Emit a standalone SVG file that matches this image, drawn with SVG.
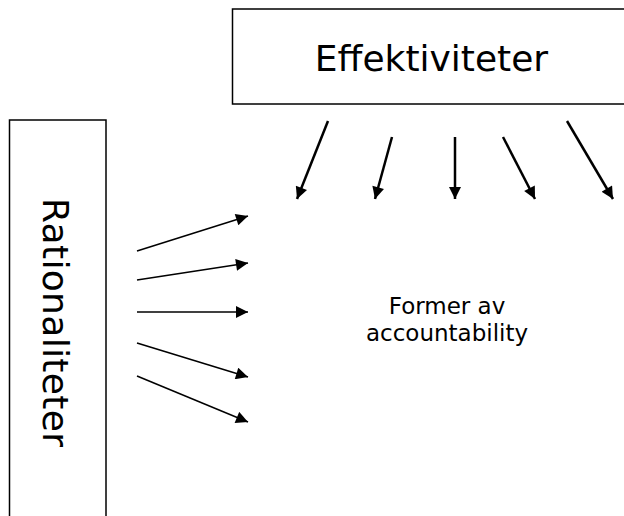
<svg xmlns="http://www.w3.org/2000/svg" width="624" height="516" viewBox="0 0 624 516">
<style>
.box{fill:#fff;stroke:#000;stroke-width:1.5}
.t{font-family:"DejaVu Sans",Verdana,sans-serif;fill:#000}
.a1{stroke:#000;stroke-width:1.5;fill:none}
.a2{stroke:#000;stroke-width:2.5;fill:none}
</style>
<defs>
<marker id="h1b" viewBox="0 0 10 10" refX="10" refY="5" markerWidth="14" markerHeight="12" markerUnits="userSpaceOnUse" orient="auto"><path d="M0,0 L10,5 L0,10 z" fill="#000"/></marker>
</defs>
<rect width="624" height="516" fill="#fff"/>
<g id="effektiviteter">
<rect class="box" x="232.5" y="9" width="400" height="95"/>
<text class="t" x="431.5" y="71" font-size="36" text-anchor="middle">Effektiviteter</text>
</g>
<g id="rationaliteter">
<rect class="box" x="9.5" y="120" width="96.5" height="410"/>
<text class="t" transform="translate(43,322.5) rotate(90)" font-size="36" text-anchor="middle" textLength="249" lengthAdjust="spacing">Rationaliteter</text>
</g>
<g id="former">
<text class="t" font-size="23" text-anchor="middle"><tspan x="447" y="314">Former av</tspan><tspan x="447" y="341">accountability</tspan></text>
</g>
<g id="connectors">
<line class="a1" x1="137" y1="251" x2="248" y2="216" marker-end="url(#h1b)"/>
<line class="a1" x1="137" y1="280" x2="248" y2="263" marker-end="url(#h1b)"/>
<line class="a1" x1="137" y1="312" x2="248" y2="312" marker-end="url(#h1b)"/>
<line class="a1" x1="137" y1="343" x2="248" y2="377" marker-end="url(#h1b)"/>
<line class="a1" x1="137" y1="376" x2="248" y2="422" marker-end="url(#h1b)"/>
<line class="a2" x1="328" y1="121" x2="297" y2="199" marker-end="url(#h1b)"/>
<line class="a2" x1="392" y1="137" x2="375" y2="199" marker-end="url(#h1b)"/>
<line class="a2" x1="455" y1="137" x2="455" y2="199" marker-end="url(#h1b)"/>
<line class="a2" x1="503" y1="137" x2="535" y2="199" marker-end="url(#h1b)"/>
<line class="a2" x1="567" y1="121" x2="613" y2="199" marker-end="url(#h1b)"/>
</g>
</svg>
